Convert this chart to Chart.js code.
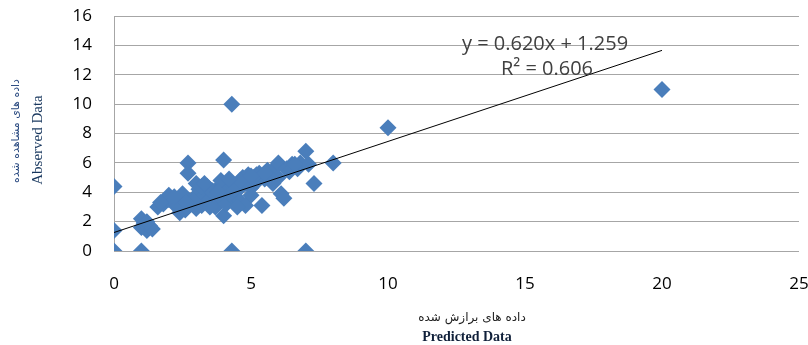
<!DOCTYPE html>
<html>
<head>
<meta charset="utf-8">
<script src="https://cdn.jsdelivr.net/npm/chart.js@4"></script>
<style>
  body { margin: 0; background: #fff; }
  #wrap { width: 808px; height: 345px; }
</style>
</head>
<body>
<div id="wrap"><canvas id="chart" width="808" height="345"></canvas></div>
<script>
// predicted (x) vs observed (y)
var predicted = [0, 0, 0, 1, 4.3, 7, 4.3, 10, 20,
  1, 1, 1.2, 1.3, 1.1, 1.4, 1.2,
  1.6, 1.8, 2, 2, 2.2, 2.4, 2.5, 2.6, 2.7, 2.7, 2.8, 2.9, 3, 3, 3.1, 3.2, 3.3, 3.4, 3.5, 3.6, 3.7, 3.8, 3.9,
  4, 4, 4, 4.1, 4.2, 4.3, 4.4, 4.5, 4.6, 4.7, 4.8, 4.8, 4.9, 5, 5, 5.1, 5.2, 5.3, 5.4, 5.5, 5.6, 5.7, 5.8, 5.9,
  6, 6, 6.1, 6.2, 6.3, 6.5, 6.7, 6.8, 7, 7.1, 7.3, 8,
  2.3, 3.2, 3.6, 4.4, 4.9, 5.6, 2.9, 3.9,
  3.3, 3.8, 4.6, 5.2, 2.6, 3.5, 4.2, 5.5, 6.4, 2.2, 1.7, 4.5, 5.0, 6.6];
var observed = [0, 4.4, 1.4, 0, 0, 0, 10, 8.4, 11,
  2.2, 1.6, 1.4, 1.7, 1.9, 1.5, 2.0,
  3.0, 3.2, 3.5, 3.8, 3.4, 2.6, 3.9, 2.8, 6, 5.3, 3.2, 3.6, 2.9, 4.6, 4.2, 3.1, 3.8, 4.4, 3.5, 4.1, 3.0, 4.3, 3.6,
  6.2, 2.4, 4.5, 3.2, 3.9, 4.5, 3.6, 4.1, 3.4, 5.0, 4.6, 3.1, 5.2, 4.3, 3.8, 5.0, 4.7, 5.3, 3.1, 4.9, 5.5, 5.1, 4.6, 5.7,
  6, 5.0, 3.9, 3.6, 5.6, 5.9, 5.6, 6.0, 6.8, 5.9, 4.6, 6,
  3.0, 4.4, 4.0, 4.2, 4.6, 5.2, 3.4, 4.8,
  4.6, 4.0, 4.8, 5.2, 3.3, 3.0, 4.9, 5.3, 5.4, 3.7, 3.3, 3.0, 5.1, 5.9];
var xTicks = [0, 5, 10, 15, 20, 25];
var yTicks = [0, 2, 4, 6, 8, 10, 12, 14, 16];
var slope = 0.620, intercept = 1.259, rSquared = 0.606;
var trendRange = [0, 20];

var points = predicted.map(function (x, i) { return { x: x, y: observed[i] }; });
var trend = trendRange.map(function (x) { return { x: x, y: slope * x + intercept }; });

var labelsPlugin = {
  id: 'labels',
  afterDraw: function (chart) {
    var c = chart.ctx;
    c.save();
    c.fillStyle = '#404040';
    c.textAlign = 'center';
    c.textBaseline = 'middle';
    c.font = '20px "Open Sans"';
    c.fillText('y = ' + slope.toFixed(3) + 'x + ' + intercept.toFixed(3), 545, 44);
    c.fillText('R\u00b2 = ' + rSquared.toFixed(3), 547, 69);

    // x axis titles
    c.fillStyle = '#222';
    c.font = '12px "DejaVu Sans"';
    c.fillText('داده های برازش شده', 472, 318);
    c.fillStyle = '#10203a';
    c.font = 'bold 14px "Liberation Serif"';
    c.fillText('Predicted Data', 467, 337);

    // y axis titles
    c.translate(16, 131);
    c.rotate(-Math.PI / 2);
    c.fillStyle = '#2a4a80';
    c.font = '11px "DejaVu Sans"';
    c.fillText('داده های مشاهده شده', 0, 0);
    c.rotate(Math.PI / 2);
    c.translate(22, 9);
    c.rotate(-Math.PI / 2);
    c.fillStyle = '#17365d';
    c.font = '15px "Liberation Serif"';
    c.fillText('Abserved Data', 0, 0);
    c.restore();
  }
};

new Chart(document.getElementById('chart'), {
  type: 'scatter',
  data: {
    datasets: [{
      data: points,
      pointStyle: 'rectRot',
      pointRadius: 8.5,
      pointHoverRadius: 8.5,
      backgroundColor: '#4a7ebb',
      borderColor: '#4a7ebb',
      borderWidth: 0,
      order: 2
    }, {
      type: 'line',
      data: trend,
      borderColor: '#000',
      borderWidth: 1,
      pointRadius: 0,
      fill: false,
      order: 1
    }]
  },
  options: {
    responsive: false,
    animation: false,
    layout: { padding: { left: 0, right: 9, top: 16, bottom: 0 } },
    plugins: { legend: { display: false }, tooltip: { enabled: false } },
    scales: {
      x: {
        type: 'linear',
        min: 0, max: 25,
        afterBuildTicks: function (s) { s.ticks = xTicks.map(function (v) { return { value: v }; }); },
        afterFit: function (s) { s.height = 94; s.paddingLeft = 0; s.paddingRight = 0; },
        grid: { display: false },
        border: { display: false },
        ticks: { padding: 15, color: '#000', font: { family: 'Open Sans', size: 17 }, maxRotation: 0 }
      },
      y: {
        min: 0, max: 16,
        afterBuildTicks: function (s) { s.ticks = yTicks.map(function (v) { return { value: v }; }); },
        afterFit: function (s) { s.width = 114; s.paddingTop = 0; s.paddingBottom = 0; },
        grid: { color: '#a6a6a6', drawTicks: false },
        border: { display: true, color: '#a6a6a6' },
        ticks: { padding: 22, color: '#000', font: { family: 'Open Sans', size: 17 } }
      }
    }
  },
  plugins: [labelsPlugin]
});
</script>
</body>
</html>
